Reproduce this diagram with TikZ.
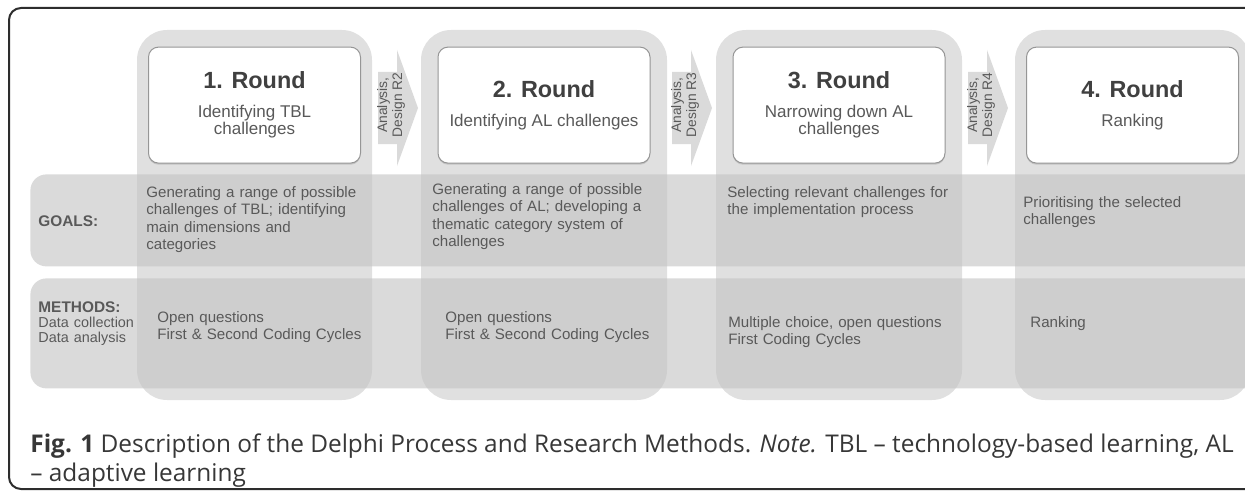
\documentclass[tikz,border=0pt]{standalone}
\usepackage{fontspec}
\setmainfont{Liberation Sans}
\newfontfamily\capfont{Open Sans}
\usepackage{tikz}
\usetikzlibrary{positioning,shadows}
\definecolor{framegray}{RGB}{45,45,45}
\definecolor{colgray}{RGB}{224,224,224}
\definecolor{bandgray}{RGB}{196,196,196}
\definecolor{chevrongray}{RGB}{218,218,218}
\definecolor{boxline}{RGB}{150,150,150}
\definecolor{titlegray}{RGB}{64,64,64}
\definecolor{textgray}{RGB}{89,89,89}
\definecolor{captext}{RGB}{55,55,55}
\newcommand{\roundtitle}[1]{{\fontsize{11.7}{12}\selectfont\bfseries\color{titlegray}#1}}

\begin{document}
\begin{tikzpicture}[
        x=0.5pt, y=-0.5pt,
        column/.style={rectangle, fill=colgray, rounded corners=15pt, minimum height=185pt, inner sep=0pt},
        band/.style={rectangle, fill=bandgray, fill opacity=0.62, rounded corners=8pt, minimum width=640pt, inner sep=0pt, anchor=north west},
        roundbox/.style={rectangle, draw=boxline, fill=white, line width=0.5pt, rounded corners=5pt, minimum width=106pt, minimum height=58pt, align=center, text=textgray, font=\fontsize{8.5}{8.5}\selectfont, drop shadow={shadow xshift=0pt, shadow yshift=-0.8pt, opacity=0.3}},
        chevron/.style={fill=chevrongray},
        chevlabel/.style={rotate=90, align=center, inner sep=0pt, text=textgray, font=\fontsize{6.9}{6}\selectfont},
        rowlabel/.style={anchor=base west, inner sep=0pt, text=textgray, font=\fontsize{7.7}{7.5}\selectfont\bfseries},
        celltext/.style={anchor=base west, inner sep=0pt, text width=125pt, align=left, text=textgray, font=\fontsize{7.55}{8.8}\selectfont},
        capline/.style={anchor=base west, inner sep=0pt, text=captext, font=\capfont\fontsize{12.2}{14}\selectfont}
    ]
        \useasboundingbox (0,0) rectangle (1245,492);
        \draw[framegray, line width=1pt, rounded corners=6pt] (9,8) rectangle (1300,489);

        % Round columns
        \node[column, minimum width=117.5pt] (c1) at (254.5,215) {};
        \node[column, minimum width=123pt] (c2) at (544,215) {};
        \node[column, minimum width=123pt] (c3) at (839,215) {};
        \node[column, minimum width=117.5pt] (c4) at (1132.5,215) {};

        % Rows
        \node[band, minimum height=46pt] (goals) at (30,174) {};
        \node[band, minimum height=55pt] (methods) at (30,278) {};

        % Analysis steps between rounds
        \fill[chevron] (378,72) -- (397,72) -- (397,50) -- (418,108) -- (397,166) -- (397,144) -- (378,144) -- cycle;
        \fill[chevron] (672,72) -- (691,72) -- (691,50) -- (712,108) -- (691,166) -- (691,144) -- (672,144) -- cycle;
        \fill[chevron] (968,72) -- (987,72) -- (987,50) -- (1008,108) -- (987,166) -- (987,144) -- (968,144) -- cycle;
        \node[chevlabel] (s2) at (391,105) {Analysis,\\Design R2};
        \node[chevlabel] (s3) at (685,105) {Analysis,\\Design R3};
        \node[chevlabel] (s4) at (981,105) {Analysis,\\Design R4};

        % Round boxes
        \node[roundbox, below=8.5pt of c1.north] (r1) {\roundtitle{1. Round}\\[6pt]Identifying TBL\\challenges};
        \node[roundbox, below=8.5pt of c2.north] (r2) {\roundtitle{2. Round}\\[6pt]Identifying AL challenges};
        \node[roundbox, below=8.5pt of c3.north] (r3) {\roundtitle{3. Round}\\[6pt]Narrowing down AL\\challenges};
        \node[roundbox, below=8.5pt of c4.north] (r4) {\roundtitle{4. Round}\\[6pt]Ranking};

        % Row labels
        \node[rowlabel] (goalslbl) at (38,226) {GOALS:};
        \node[rowlabel, text width=50pt, align=left] (methodslbl) at (38,312) {METHODS:\\{\mdseries\fontsize{7.2}{7.5}\selectfont Data collection}\\{\mdseries\fontsize{7.2}{7.5}\selectfont Data analysis}};

        % Goals
        \node[celltext] (g1) at (146,197) {Generating a range of possible\\challenges of TBL; identifying\\main dimensions and\\categories};
        \node[celltext] (g2) at (432,194) {Generating a range of possible\\challenges of AL; developing a\\thematic category system of\\challenges};
        \node[celltext] (g3) at (727,197) {Selecting relevant challenges for\\the implementation process};
        \node[celltext] (g4) at (1023,207) {Prioritising the selected\\challenges};

        % Methods
        \node[celltext] (m1) at (157,322) {Open questions\\First \& Second Coding Cycles};
        \node[celltext] (m2) at (445,322) {Open questions\\First \& Second Coding Cycles};
        \node[celltext] (m3) at (728,327) {Multiple choice, open questions\\First Coding Cycles};
        \node[celltext] (m4) at (1030,327) {Ranking};

        % Caption
        \node[capline] (cap) at (30,452) {\textbf{Fig. 1} Description of the Delphi Process and Research Methods. \textit{Note.} TBL – technology-based learning, AL};
        \node[capline] (cap2) at (30,481) {– adaptive learning};
    \end{tikzpicture}
\end{document}
